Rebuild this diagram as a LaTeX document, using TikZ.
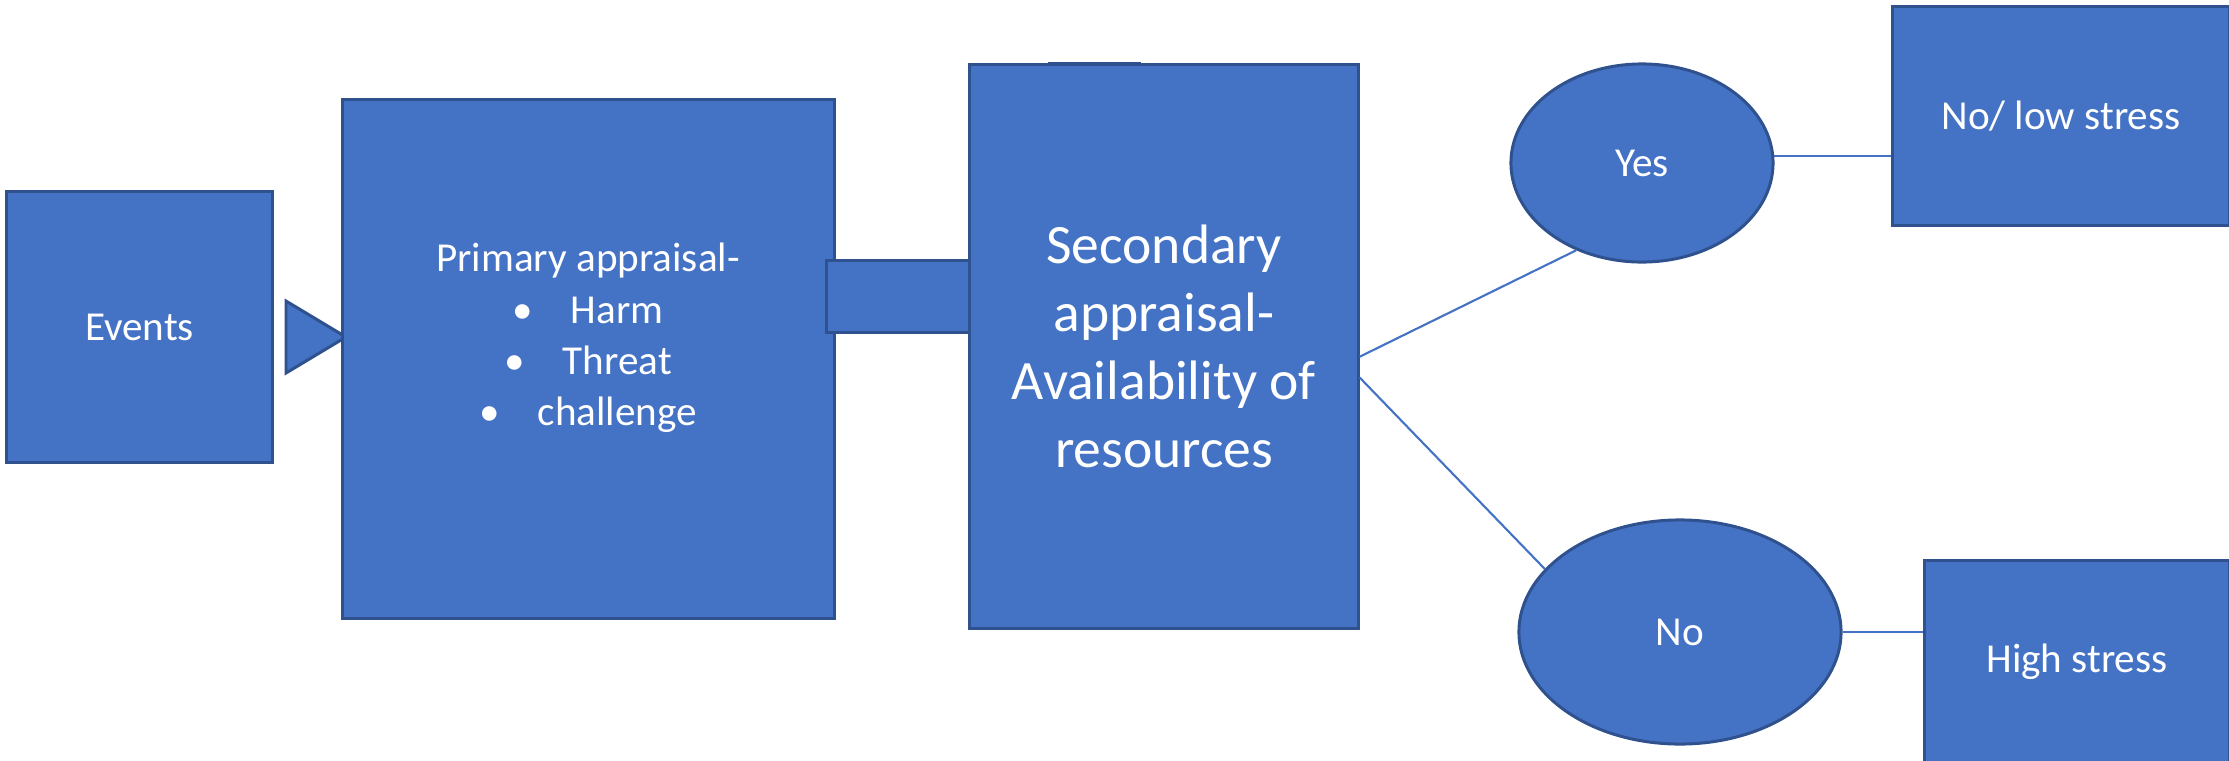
\documentclass[tikz,border=0pt]{standalone}
\usepackage{fontspec}
\setmainfont{Carlito}
\usepackage{tikz}
\usetikzlibrary{shapes}
\definecolor{boxblue}{HTML}{4472C4}
\definecolor{boxline}{HTML}{2F528F}
\tikzstyle{box}=[rectangle,draw=boxline,fill=boxblue,line width=0.85pt,inner sep=0pt,text=white,font=\fontsize{11.7}{14.2}\selectfont]
\tikzstyle{oval}=[box,ellipse]
\tikzstyle{edge} = [draw,boxblue,line width=0.6pt,-]

\begin{document}
\begin{tikzpicture}[x=0.01cm,y=-0.01cm]
      \useasboundingbox (0,0) rectangle (2229,760);
      % sizes in mm, 1mm = 10 units
      \node[box,minimum width=26.5mm,minimum height=27mm] (events) at (139.5,327) {Events};
      \draw[box] (286,301) -- (346,337) -- (286,373) -- cycle;
      \node[box,minimum width=49.1mm,minimum height=51.8mm] (prim) at (588.5,359) {};
      \node[text=white,align=center,font=\fontsize{11.7}{14.6}\selectfont] (primtext) at (588,338)
        {Primary appraisal-\\ \textbullet\hspace{3.8mm}Harm\\ \textbullet\hspace{3.8mm}Threat\\ \textbullet\hspace{3.8mm}challenge};
      \node[box,minimum width=14.3mm,minimum height=7.1mm] (link) at (898.5,296.5) {};
      \node[box,minimum width=38.8mm,minimum height=56.3mm,align=center,font=\fontsize{15.8}{19.4}\selectfont] (sec) at (1164,346.5)
        {Secondary\\appraisal-\\Availability of\\resources};
      \node[box,fill=boxline,minimum width=9.1mm,minimum height=0.3mm,line width=0pt] (tab) at (1094.5,63.5) {};
      \node[oval,minimum width=26.2mm,minimum height=19.8mm] (yes) at (1642,163) {Yes};
      \node[oval,minimum width=32.2mm,minimum height=22.4mm] (no) at (1680,632) {No};
      \node[box,minimum width=33.6mm,minimum height=21.8mm] (low) at (2061,116) {No/ low stress};
      \node[box,minimum width=30.4mm,minimum height=20.1mm] (high) at (2077,661.5) {High stress};
      \draw[edge] (sec.-3.4) to (yes.233);
      \draw[edge] (sec.-9.8) to (no.155.3);
      \draw[edge] (yes.3) to (yes.3 -| low.west);
      \draw[edge] (no.east) to (no.east -| high.west);
    \end{tikzpicture}
\end{document}
